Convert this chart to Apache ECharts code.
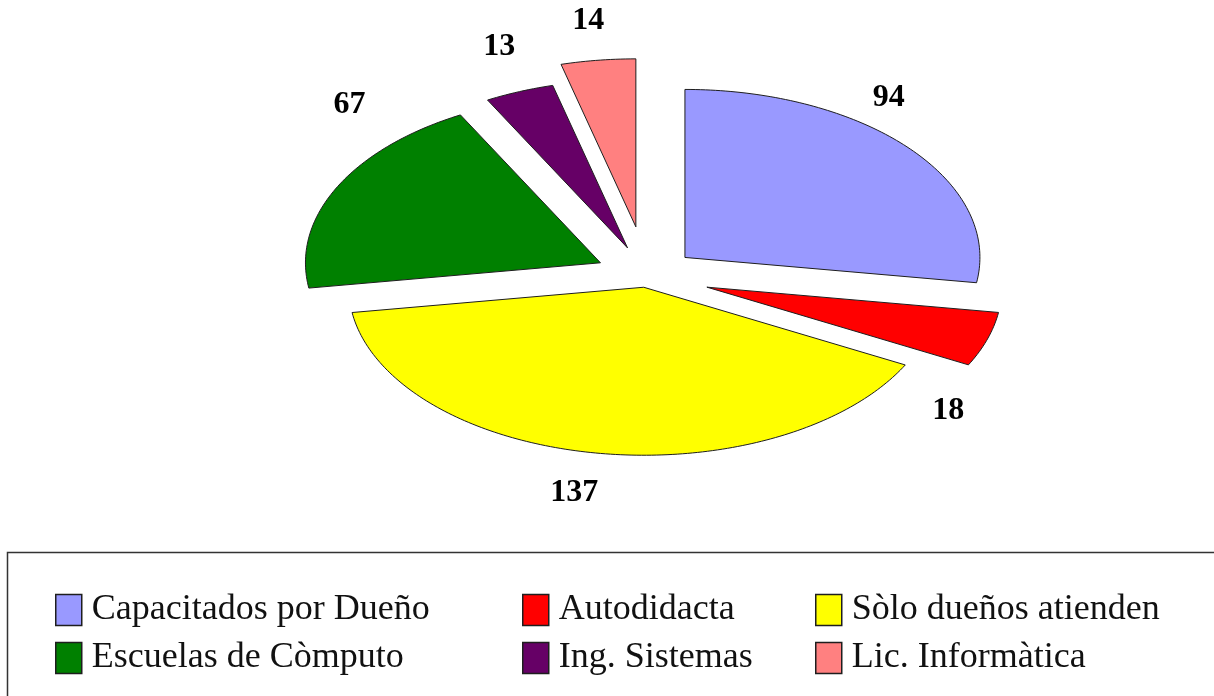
<!DOCTYPE html>
<html>
<head>
<meta charset="utf-8">
<script src="https://cdn.jsdelivr.net/npm/echarts@6/dist/echarts.min.js"></script>
<style>
  html, body { margin: 0; padding: 0; background: #fff; }
  #chart { width: 1214px; height: 696px; }
</style>
</head>
<body>
<div id="chart"></div>
<script>
// Category names and counts, in drawing order (clockwise from 12 o'clock)
const categories = ['Capacitados por Dueño', 'Autodidacta', 'Sòlo dueños atienden', 'Escuelas de Còmputo', 'Ing. Sistemas', 'Lic. Informàtica'];
const values = [94, 18, 137, 67, 13, 14];
const colors = ['#9999FF', '#FF0000', '#FFFF00', '#008000', '#660066', '#FF8080'];

// Legend columns (two entries per column)
const legendColumns = [
  ['Capacitados por Dueño', 'Escuelas de Còmputo'],
  ['Autodidacta', 'Ing. Sistemas'],
  ['Sòlo dueños atienden', 'Lic. Informàtica']
];

// Elliptical (tilted) pie layout
const CX = 647, CY = 276, RX = 295, RY = 168;
const explode = [50, 63, 20, 52, 53, 87];          // per-slice pull-out distance
const labelNudge = [[-20, -50], [-39, 71], [-21, 40], [13, -83], [-20, -45], [-10, -40]];

const total = values.reduce((s, v) => s + v, 0);
const startCum = values.map((v, i) => values.slice(0, i).reduce((s, x) => s + x, 0));

function renderSlice(params, api) {
  const i = params.seriesIndex;
  const v = api.value(0);
  const t0 = startCum[i] / total * 2 * Math.PI;
  const t1 = t0 + v / total * 2 * Math.PI;
  const tm = (t0 + t1) / 2;
  const ax = CX + explode[i] * Math.sin(tm);
  const ay = CY - explode[i] * (RY / RX) * Math.cos(tm);
  const pts = [[ax, ay]];
  const n = Math.max(4, Math.ceil((t1 - t0) / (Math.PI / 180)));
  for (let k = 0; k <= n; k++) {
    const t = t0 + (t1 - t0) * k / n;
    pts.push([ax + RX * Math.sin(t), ay - RY * Math.cos(t)]);
  }
  const lx = ax + RX * Math.sin(tm) + labelNudge[i][0];
  const ly = ay - RY * Math.cos(tm) + labelNudge[i][1];
  return {
    type: 'group',
    children: [
      { type: 'polygon', shape: { points: pts }, style: { fill: colors[i], stroke: '#1e1e1e', lineWidth: 1 } },
      { type: 'text', style: { text: String(v), x: lx, y: ly, fill: '#000',
        font: 'bold 32px "Liberation Serif"', align: 'center', verticalAlign: 'middle',
        textAlign: 'center', textVerticalAlign: 'middle' } }
    ]
  };
}

const legendLeft = [50, 517, 810];

const option = {
  backgroundColor: '#fff',
  animation: false,
  graphic: [{
    type: 'rect', z: -10,
    shape: { x: 7.5, y: 552.5, width: 1300, height: 300 },
    style: { fill: 'none', stroke: '#333', lineWidth: 1.5 }
  }],
  legend: legendColumns.map((names, c) => ({
    data: names,
    orient: 'vertical',
    left: legendLeft[c],
    top: 587,
    icon: 'rect',
    itemWidth: 26,
    itemHeight: 31,
    itemGap: 12,
    selectedMode: false,
    itemStyle: { borderColor: '#1e1e1e', borderWidth: 1.5 },
    textStyle: { fontFamily: 'Liberation Serif', fontSize: 36, color: '#111', lineHeight: 31, padding: [0, 0, 0, 5] }
  })),
  series: categories.map((name, i) => ({
    type: 'custom',
    name: name,
    coordinateSystem: 'none',
    silent: true,
    itemStyle: { color: colors[i] },
    data: [[values[i]]],
    renderItem: renderSlice
  }))
};

const chart = echarts.init(document.getElementById('chart'), null, { renderer: 'canvas' });
chart.setOption(option);
</script>
</body>
</html>
